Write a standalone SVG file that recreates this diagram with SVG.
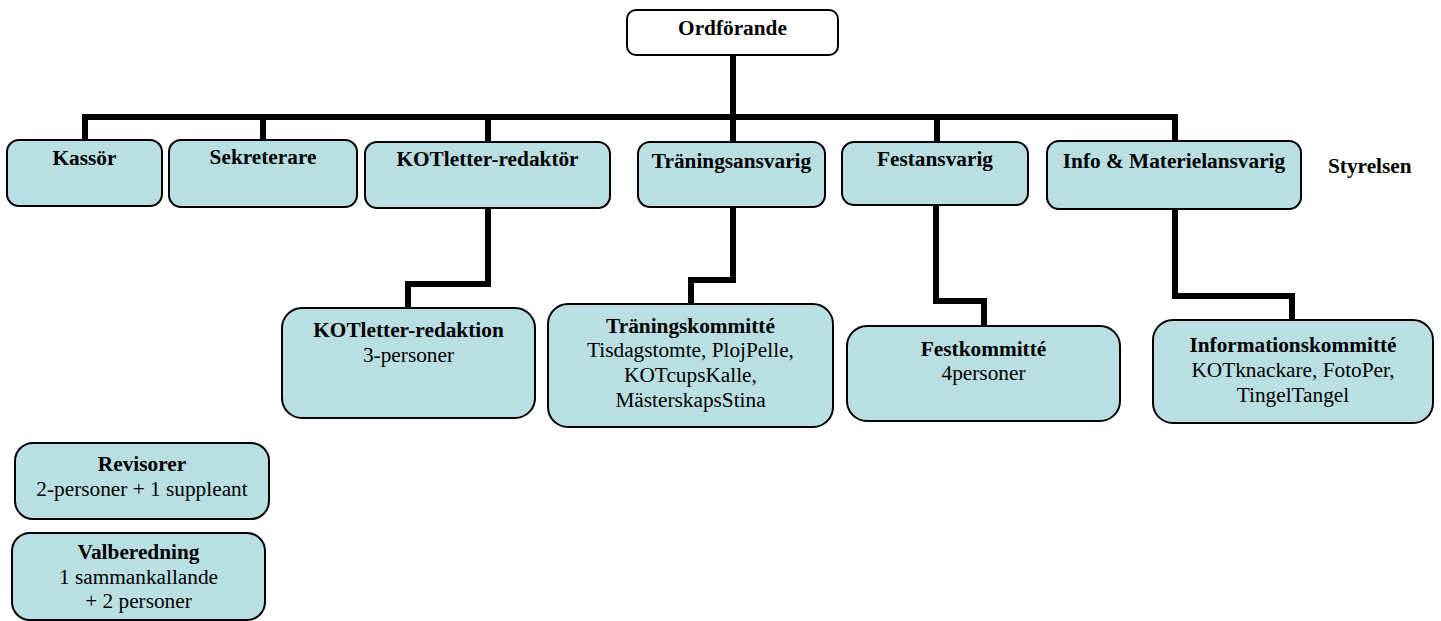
<svg xmlns="http://www.w3.org/2000/svg" width="1441" height="621" viewBox="0 0 1441 621">
<style>
.box{fill:#b9dfe2;stroke:#000;stroke-width:2}
.wbox{fill:#fff;stroke:#000;stroke-width:2}
.con{fill:none;stroke:#000;stroke-width:6;stroke-linejoin:miter;stroke-linecap:square}
text{font-family:"Liberation Serif","Times New Roman",serif;font-size:21.3px;fill:#000;text-anchor:middle}
.b{font-weight:bold}
</style>
<rect width="1441" height="621" fill="#fff"/>
<g id="connectors">
<path class="con" d="M733 56 V141"/>
<path class="con" d="M85 139 V117 H1175 V139"/>
<path class="con" d="M263 117 V139"/>
<path class="con" d="M488 117 V141"/>
<path class="con" d="M937 117 V141"/>
<path class="con" d="M488 209 V284 H408 V307"/>
<path class="con" d="M733 208 V280 H691 V303"/>
<path class="con" d="M936 206 V301 H984 V325"/>
<path class="con" d="M1175 210 V296 H1292 V319"/>
</g>
<g id="ordforande"><rect class="wbox" x="627" y="10" width="211" height="45" rx="9"/><text class="b" x="732.5" y="35">Ordförande</text></g>
<g id="kassor"><rect class="box" x="7" y="140" width="155" height="66" rx="12"/><text class="b" x="84.5" y="165">Kassör</text></g>
<g id="sekreterare"><rect class="box" x="169" y="140" width="188" height="67" rx="12"/><text class="b" x="263" y="164">Sekreterare</text></g>
<g id="kotletter-redaktor"><rect class="box" x="365" y="142" width="245" height="66" rx="12"/><text class="b" x="487.5" y="166">KOTletter-redaktör</text></g>
<g id="traningsansvarig"><rect class="box" x="638" y="142" width="187" height="65" rx="12"/><text class="b" x="731.5" y="168">Träningsansvarig</text></g>
<g id="festansvarig"><rect class="box" x="842" y="142" width="186" height="63" rx="12"/><text class="b" x="935" y="166">Festansvarig</text></g>
<g id="info"><rect class="box" x="1047" y="141" width="254" height="68" rx="12"/><text class="b" x="1174" y="168">Info &amp; Materielansvarig</text></g>
<g id="styrelsen"><text class="b" x="1328" y="173" style="text-anchor:start">Styrelsen</text></g>
<g id="kotletter-redaktion"><rect class="box" x="282" y="308" width="253" height="110" rx="20"/><text class="b" x="408.5" y="337">KOTletter-redaktion</text><text x="408.5" y="362">3-personer</text></g>
<g id="traningskommitte"><rect class="box" x="548" y="304" width="285" height="123" rx="20"/><text class="b" x="690.5" y="333">Träningskommitté</text><text x="690.5" y="357">Tisdagstomte, PlojPelle,</text><text x="690.5" y="382">KOTcupsKalle,</text><text x="690.5" y="407">MästerskapsStina</text></g>
<g id="festkommitte"><rect class="box" x="847" y="326" width="273" height="95" rx="20"/><text class="b" x="983.5" y="356">Festkommitté</text><text x="983.5" y="380">4personer</text></g>
<g id="informationskommitte"><rect class="box" x="1153" y="320" width="280" height="103" rx="20"/><text class="b" x="1293" y="352">Informationskommitté</text><text x="1293" y="377">KOTknackare, FotoPer,</text><text x="1293" y="402">TingelTangel</text></g>
<g id="revisorer"><rect class="box" x="15" y="443" width="254" height="76" rx="18"/><text class="b" x="142" y="471">Revisorer</text><text x="142" y="496">2-personer + 1 suppleant</text></g>
<g id="valberedning"><rect class="box" x="12" y="533" width="253" height="87" rx="18"/><text class="b" x="138.5" y="559">Valberedning</text><text x="138.5" y="584">1 sammankallande</text><text x="138.5" y="608">+ 2 personer</text></g>
</svg>
